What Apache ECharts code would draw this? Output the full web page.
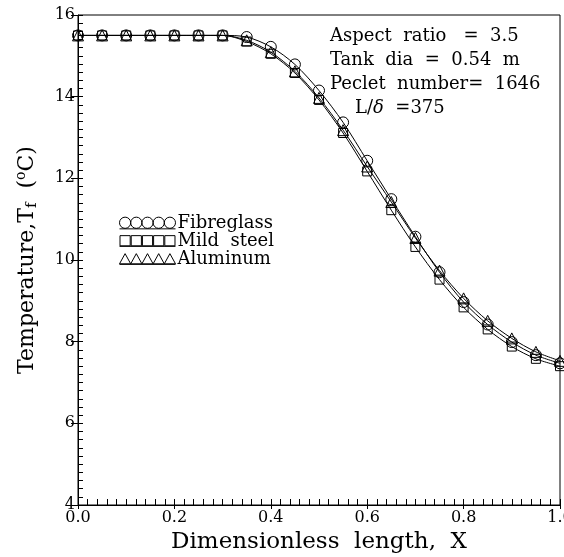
<!DOCTYPE html>
<html><head><meta charset="utf-8">
<script src="https://cdn.jsdelivr.net/npm/echarts@6/dist/echarts.min.js"></script>
<style>html,body{margin:0;padding:0;background:#fff}#c{width:564px;height:557px}</style>
</head><body><div id="c"></div>
<script>
const xValues = [0,0.05,0.1,0.15,0.2,0.25,0.3,0.35,0.4,0.45,0.5,0.55,0.6,0.65,0.7,0.75,0.8,0.85,0.9,0.95,1.0];
const fibreglass = [15.5,15.5,15.5,15.5,15.5,15.5,15.5,15.46,15.22,14.79,14.15,13.37,12.43,11.49,10.57,9.70,8.97,8.42,7.99,7.67,7.47];
const mildSteel  = [15.5,15.5,15.5,15.5,15.5,15.5,15.5,15.35,15.05,14.58,13.92,13.11,12.17,11.22,10.32,9.52,8.84,8.30,7.88,7.58,7.40];
const aluminum   = [15.5,15.5,15.5,15.5,15.5,15.5,15.5,15.38,15.09,14.62,13.97,13.18,12.29,11.42,10.54,9.74,9.06,8.51,8.08,7.75,7.53];
const seriesNames = ['Fibreglass','Mild  steel','Aluminum'];
const xTicks = [0,0.2,0.4,0.6,0.8,1.0];
const yTicks = [4,6,8,10,12,14,16];
const notes = ['Aspect  ratio   =  3.5','Tank  dia  =  0.54  m','Peclet  number=  1646'];

const FONT = 'DejaVu Serif';
const pair = a => a.map((v,i)=>[xValues[i], v]);

function repeatPath(unit){ let p=''; for(let i=0;i<5;i++){ p += unit(i*11); } return 'path://' + p + 'M0 11.5 L55 11.5'; }
const circIcon = repeatPath(o => `M${o} 5.5 A5.5 5.5 0 1 0 ${o+11} 5.5 A5.5 5.5 0 1 0 ${o} 5.5 Z `);
const rectIcon = repeatPath(o => `M${o+0.5} 1 L${o+10.5} 1 L${o+10.5} 11 L${o+0.5} 11 Z `);
const triIcon  = repeatPath(o => `M${o} 11 L${o+5.5} 1 L${o+11} 11 Z `);

const chart = echarts.init(document.getElementById('c'), null, {renderer:'canvas'});
const symbols = ['circle','rect','triangle'];
const sizes = [11,9,11];
const datas = [fibreglass, mildSteel, aluminum];

const baseAxisLabel = {fontFamily: FONT, fontSize: 16, color:'#000'};
const option = {
  animation:false,
  backgroundColor:'#fff',
  grid:{left:78, top:15, right:4, bottom:52, show:true, borderColor:'#000', borderWidth:1, containLabel:false, outerBoundsMode:'none'},
  xAxis:[{
    type:'value', min:0, max:1, interval:0.2,
    axisLine:{show:true, lineStyle:{color:'#000', width:1}},
    axisTick:{show:true, inside:false, length:4, lineStyle:{color:'#000'}},
    axisLabel:Object.assign({margin:5, formatter:v=>xTicks.includes(+v.toFixed(1)) ? v.toFixed(1) : ''}, baseAxisLabel),
    splitLine:{show:false},
    name:'Dimensionless  length,  X', nameLocation:'middle', nameGap:22,
    nameTextStyle:{fontFamily:FONT, fontSize:23, color:'#000'}
  },{
    type:'value', min:0, max:1, interval:0.2, position:'bottom',
    axisLine:{show:false}, axisLabel:{show:false}, splitLine:{show:false},
    axisTick:{show:true, inside:true, length:6, lineStyle:{color:'#000'}},
    minorTick:{show:true, splitNumber:10, length:6, lineStyle:{color:'#000'}}
  }],
  yAxis:[{
    type:'value', min:4, max:16, interval:2,
    axisLine:{show:true, lineStyle:{color:'#000', width:1}},
    axisTick:{show:true, inside:false, length:7, lineStyle:{color:'#000'}},
    axisLabel:Object.assign({margin:3, formatter:v=>yTicks.includes(v)? String(v):''}, baseAxisLabel),
    splitLine:{show:false},
    name:'{n|Temperature,T}{sub|f}{n|  (}{sup|o}{n|C)}', nameLocation:'middle', nameGap:38,
    nameTextStyle:{fontFamily:FONT, fontSize:22, color:'#000',
      rich:{n:{fontFamily:FONT,fontSize:22,color:'#000'}, sub:{fontFamily:FONT,fontSize:15,color:'#000',padding:[11,0,0,0]}, sup:{fontFamily:FONT,fontSize:14,color:'#000',padding:[0,0,11,0]}}}
  },{
    type:'value', min:4, max:16, interval:2, position:'left',
    axisLine:{show:false}, axisLabel:{show:false}, splitLine:{show:false},
    axisTick:{show:true, inside:true, length:5, lineStyle:{color:'#000'}},
    minorTick:{show:true, splitNumber:10, length:5, lineStyle:{color:'#000'}}
  }],
  legend:{
    orient:'vertical', left:114, top:209, itemGap:0, itemWidth:56, itemHeight:12,
    textStyle:{fontFamily:FONT, fontSize:18, lineHeight:17, color:'#000', padding:[0,0,0,-3]},
    itemStyle:{color:'rgba(0,0,0,0)', borderColor:'#000', borderWidth:1},
    data:[{name:seriesNames[0], icon:circIcon},{name:seriesNames[1], icon:rectIcon},{name:seriesNames[2], icon:triIcon}]
  },
  graphic:[
    {type:'text', left:330, top:27, style:{text:notes[0], font:`18px "${FONT}"`, fill:'#000'}},
    {type:'text', left:330, top:51, style:{text:notes[1], font:`18px "${FONT}"`, fill:'#000'}},
    {type:'text', left:330, top:75, style:{text:notes[2], font:`18px "${FONT}"`, fill:'#000'}},
    {type:'text', left:355, top:99, style:{text:'{n|L/}{i|δ}{n|  =375}', font:`18px "${FONT}"`, fill:'#000',
      rich:{n:{fontFamily:FONT,fontSize:18,color:'#000'}, i:{fontFamily:FONT,fontSize:18,fontStyle:'italic',color:'#000'}}}}
  ],
  series: datas.map((d,i)=>({
    name:seriesNames[i], type:'line', data:pair(d), smooth:0.3,
    symbol:symbols[i], symbolSize:sizes[i], showAllSymbol:true,
    lineStyle:{color:'#000', width:1},
    itemStyle:{color:'rgba(0,0,0,0)', borderColor:'#000', borderWidth:1},
    emphasis:{disabled:true}
  }))
};
chart.setOption(option);
</script></body></html>
